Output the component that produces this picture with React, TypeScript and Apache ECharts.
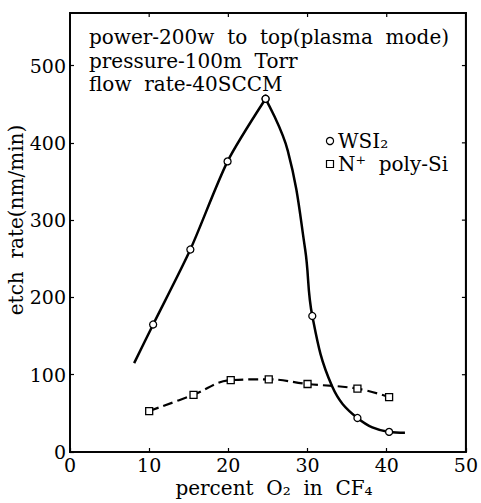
import React, { useEffect, useRef } from 'react';
import * as echarts from 'echarts';

// O2 percentage (x) and etch rate nm/min (y); unmarked entries are points
const wsiX = [8.1, 10.5, 15.2, 19.9, 24.7, 27.5, 29.7, 30.6, 33.1, 36.3, 40.3, 42.3];
const wsiY = [115, 165, 262, 376, 457, 390, 262, 176, 85, 44, 26, 25];
const wsiMarked = [false, true, true, true, true, false, false, true, false, true, true, false];
const polyX = [10, 15.6, 20.3, 25.1, 30, 36.3, 40.3];
const polyY = [53, 74, 93, 94, 88, 82, 71];
const xTicks = [0, 10, 20, 30, 40, 50];
const yTicks = [0, 100, 200, 300, 400, 500];
const yMax = 568;
const annotationLines = [
  'power-200w  to  top(plasma  mode)',
  'pressure-100m  Torr',
  'flow  rate-40SCCM',
];

const FAMILY = 'DejaVu Serif';

export default function App() {
  const ref = useRef<HTMLDivElement>(null);
  useEffect(() => {
    if (!ref.current) return;
    const chart = echarts.init(ref.current, null, { renderer: 'svg' });
    const peak = wsiY.indexOf(Math.max(...wsiY));
    const wsiData = wsiX.map((x, i) => ({
      value: [x, wsiY[i]],
      symbol: wsiMarked[i] ? 'circle' : 'none',
    }));
    const rising = wsiData.slice(0, peak + 1);
    const falling = wsiData.slice(peak);
    const polyData = polyX.map((x, i) => [x, polyY[i]]);
    const xMin = xTicks[0];
    const xMax = xTicks[xTicks.length - 1];
    const xInt = xTicks[1] - xTicks[0];
    const yInt = yTicks[1] - yTicks[0];

    const mkAxisLine = () => ({ show: true, lineStyle: { color: '#000', width: 1.5 } });
    const mkAxisTick = () => ({ show: true, inside: true, length: 4, lineStyle: { color: '#000', width: 1.2 } });
    const mkItem = () => ({ color: '#fff', borderColor: '#000', borderWidth: 1.3 });

    chart.setOption({
      animation: false,
      backgroundColor: '#fff',
      grid: { left: 70, right: 11, top: 13, bottom: 51, show: true, borderColor: '#111', borderWidth: 2 },
      xAxis: [
        {
          type: 'value', min: xMin, max: xMax, interval: xInt,
          axisLine: mkAxisLine(), axisTick: mkAxisTick(), splitLine: { show: false },
          axisLabel: { color: '#000', fontFamily: FAMILY, fontSize: 19, margin: 3 },
        },
      ],
      yAxis: [
        {
          type: 'value', min: 0, max: yMax, interval: yInt,
          axisLine: mkAxisLine(), axisTick: mkAxisTick(), splitLine: { show: false },
          axisLabel: { color: '#000', fontFamily: FAMILY, fontSize: 19, margin: 4, showMaxLabel: false },
        },
      ],
      series: [
        {
          type: 'line', name: 'WSI2 rising', data: rising, smooth: 0.25, symbolSize: 7,
          itemStyle: mkItem(), lineStyle: { color: '#000', width: 2.5 }, z: 3,
        },
        {
          type: 'line', name: 'WSI2 falling', data: falling, smooth: 0.4, symbolSize: 7,
          itemStyle: mkItem(), lineStyle: { color: '#000', width: 2.5 }, z: 3,
        },
        {
          type: 'line', name: 'N+ poly-Si', data: polyData, smooth: 0.4,
          symbol: 'rect', symbolSize: 7, itemStyle: mkItem(),
          lineStyle: { color: '#000', width: 2.2, type: [10, 5] }, z: 3,
        },
      ],
    });

    const toPx = (x: number, y: number) =>
      chart.convertToPixel({ xAxisIndex: 0, yAxisIndex: 0 }, [x, y]) as number[];
    const tl = toPx(xMin, yMax);
    const br = toPx(xMax, 0);

    const graphics: any[] = [];
    // frame edges drawn as thin filled bars
    graphics.push({
      type: 'rect', z: 100,
      shape: { x: tl[0], y: tl[1] - 0.8, width: br[0] - tl[0] + 0.8, height: 1.6 },
      style: { fill: '#000' },
    });
    graphics.push({
      type: 'rect', z: 100,
      shape: { x: br[0] - 0.8, y: tl[1] - 0.8, width: 1.6, height: br[1] - tl[1] + 0.8 },
      style: { fill: '#000' },
    });
    xTicks.slice(1, -1).forEach((v) => {
      const p = toPx(v, yMax);
      graphics.push({ type: 'rect', z: 100, shape: { x: p[0] - 0.6, y: p[1], width: 1.2, height: 4 }, style: { fill: '#000' } });
    });
    yTicks.slice(1).forEach((v) => {
      const p = toPx(xMax, v);
      graphics.push({ type: 'rect', z: 100, shape: { x: p[0] - 4, y: p[1] - 0.6, width: 4, height: 1.2 }, style: { fill: '#000' } });
    });
    annotationLines.forEach((t, i) => {
      graphics.push({
        type: 'text', x: 89, y: 37 + i * 23.5,
        style: { text: t, fontFamily: FAMILY, fontSize: 20, fill: '#000', textAlign: 'left', textVerticalAlign: 'middle' },
      });
    });
    graphics.push(
      { type: 'circle', shape: { cx: 330, cy: 141, r: 3.6 }, style: { fill: '#fff', stroke: '#000', lineWidth: 1.2 } },
      {
        type: 'text', x: 338, y: 141,
        style: { text: 'WSI\u2082', fontFamily: FAMILY, fontSize: 20, fill: '#000', textVerticalAlign: 'middle' },
      },
      { type: 'rect', shape: { x: 326.5, y: 160.5, width: 7, height: 7 }, style: { fill: '#fff', stroke: '#000', lineWidth: 1.2 } },
      {
        type: 'text', x: 338, y: 164,
        style: { text: 'N\u207A  poly-Si', fontFamily: FAMILY, fontSize: 20, fill: '#000', textVerticalAlign: 'middle' },
      },
      {
        type: 'text', x: 274, y: 488,
        style: {
          text: 'percent  O\u2082  in  CF\u2084', fontFamily: FAMILY, fontSize: 20, fill: '#000',
          textAlign: 'center', textVerticalAlign: 'middle',
        },
      },
      {
        type: 'text', x: 16, y: 220, rotation: Math.PI / 2,
        style: {
          text: 'etch  rate(nm/min)', fontFamily: FAMILY, fontSize: 20, fill: '#000',
          textAlign: 'center', textVerticalAlign: 'middle',
        },
      },
    );

    chart.setOption({ graphic: graphics });
    return () => chart.dispose();
  }, []);
  return (
    <div
      ref={ref}
      style={{ position: 'fixed', left: 0, top: 0, width: 481, height: 503, background: '#fff' }}
    />
  );
}
